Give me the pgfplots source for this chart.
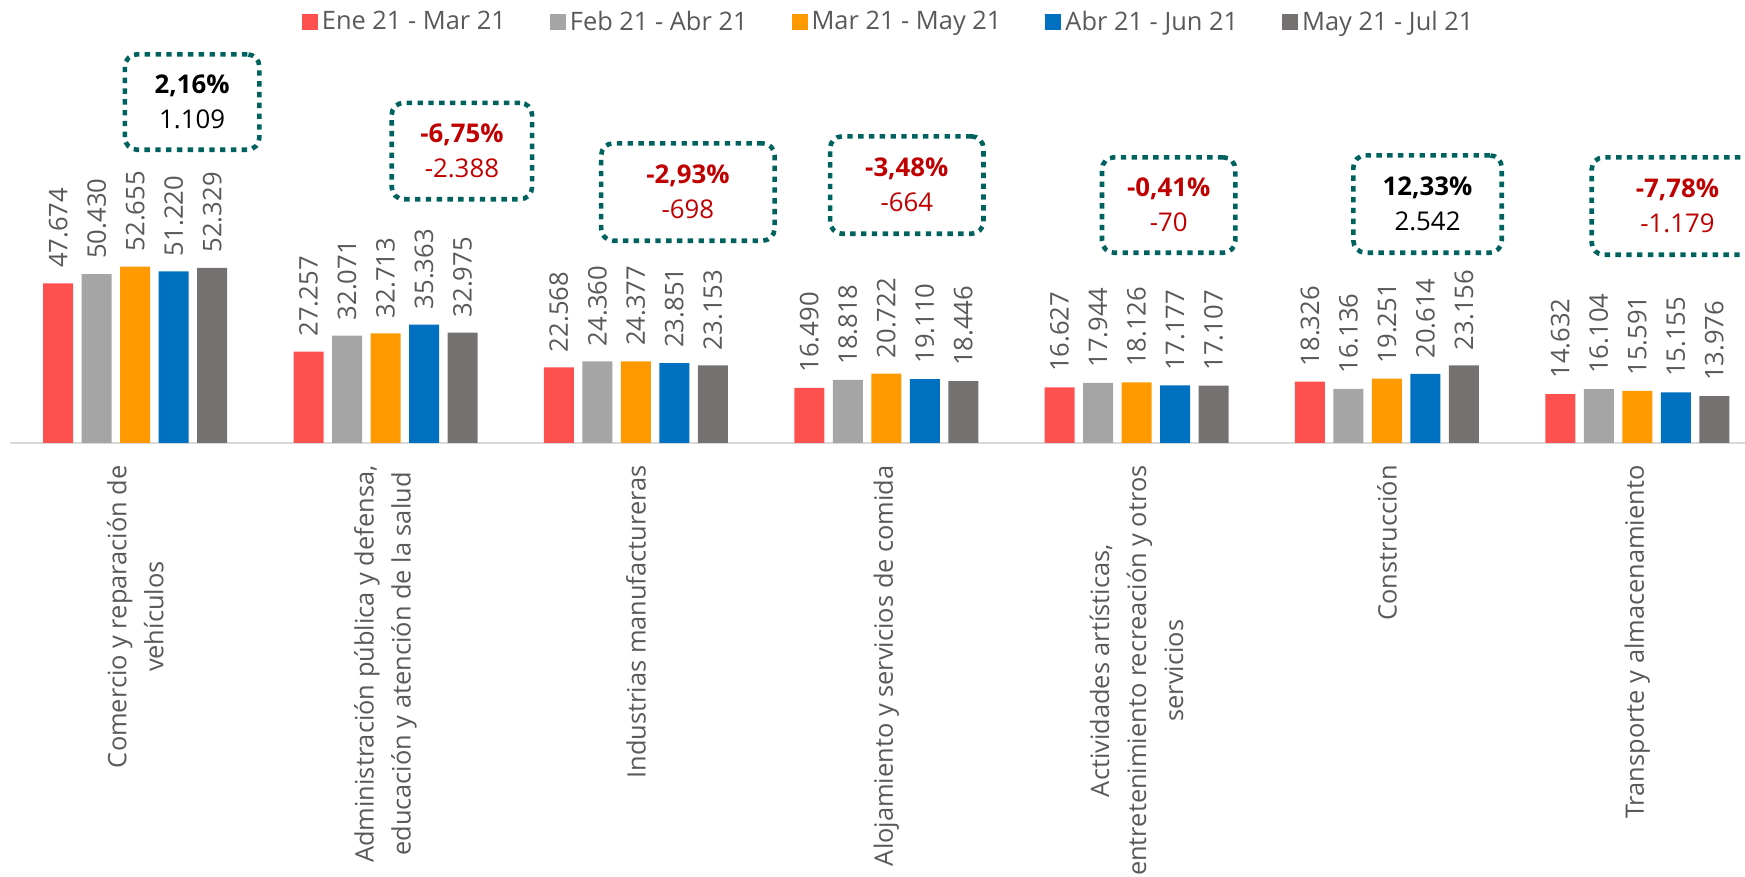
\documentclass[border=0pt]{standalone}
\usepackage{pgfplots}
\pgfplotsset{compat=1.18}
\usepackage{fontspec}
\setmainfont{Open Sans}
\definecolor{cRed}{HTML}{FF5050}
\definecolor{cGray}{HTML}{A5A5A5}
\definecolor{cOrange}{HTML}{FF9900}
\definecolor{cBlue}{HTML}{0070C0}
\definecolor{cDark}{HTML}{767171}
\definecolor{txt}{HTML}{595959}
\definecolor{boxteal}{HTML}{00625E}
\definecolor{negred}{HTML}{C00000}
\definecolor{axgray}{HTML}{D9D9D9}
\newcommand\labfont{\fontsize{12.7}{18.5}\selectfont}
\newcommand\valfont{\fontsize{12.8}{15}\selectfont}
\newcommand\legfont{\fontsize{12.7}{15}\selectfont}
\newcommand\boxfont{\fontsize{12.9}{17.5}\selectfont}
\tikzset{chgbox/.style={draw=boxteal, line width=2.3pt, dash pattern=on 2.7pt off 2.7pt,
  rounded corners=6pt, align=center, inner sep=0pt, font=\boxfont}}
\begin{document}
\begin{tikzpicture}
\useasboundingbox (0,0) rectangle (872.5pt,438.5pt);
\clip (0,0) rectangle (872.5pt,438.5pt);
\begin{axis}[
  at={(5pt,217pt)}, anchor=south west,
  scale only axis, width=867.5pt, height=221.5pt,
  xmin=-0.5, xmax=6.43, ymin=0, ymax=132300,
  ybar=4.25pt, bar width=15pt,
  axis x line*=bottom, axis y line=none,
  x axis line style={draw=axgray, line width=1pt, -},
  xtick={0,...,6}, major tick length=0pt,
  xticklabels={{Comercio y reparación de\\vehículos},
    {Administración pública y defensa,\\educación y atención de la salud},
    {Industrias manufactureras},
    {Alojamiento y servicios de comida},
    {Actividades artísticas,\\entretenimiento recreación y otros\\servicios},
    {Construcción},
    {Transporte y almacenamiento}},
  xticklabel style={rotate=90, anchor=east, align=center, inner sep=0pt, font=\labfont, text=txt},
  xticklabel shift=11pt,
  ytick=\empty,
  clip=false,
  /pgf/number format/assume math mode=true,
  nodes near coords={\pgfmathprintnumber[fixed,precision=0,1000 sep={.}]{\pgfplotspointmeta}},
  every node near coord/.append style={rotate=90, anchor=west, inner xsep=7.5pt, inner ysep=0pt, font=\valfont, text=txt},
  legend style={at={(0.507,0.95)}, anchor=center, draw=none, fill=none, legend columns=5,
    font=\legfont, text=txt, /tikz/every even column/.append style={column sep=20pt}},
  legend image code/.code={\draw[#1,draw=none] (0pt,-4pt) rectangle (8pt,4pt);},
]
\addplot[fill=cRed, draw=none] coordinates {(0,47674) (1,27257) (2,22568) (3,16490) (4,16627) (5,18326) (6,14632)};
\addplot[fill=cGray, draw=none] coordinates {(0,50430) (1,32071) (2,24360) (3,18818) (4,17944) (5,16136) (6,16104)};
\addplot[fill=cOrange, draw=none] coordinates {(0,52655) (1,32713) (2,24377) (3,20722) (4,18126) (5,19251) (6,15591)};
\addplot[fill=cBlue, draw=none] coordinates {(0,51220) (1,35363) (2,23851) (3,19110) (4,17177) (5,20614) (6,15155)};
\addplot[fill=cDark, draw=none] coordinates {(0,52329) (1,32975) (2,23153) (3,18446) (4,17107) (5,23156) (6,13976)};
\legend{Ene 21 - Mar 21, Feb 21 - Abr 21, Mar 21 - May 21, Abr 21 - Jun 21, May 21 - Jul 21}
\node[chgbox, text=black, minimum width=67.2pt, minimum height=47.7pt] at (axis cs:0.2275,101823) {\textbf{2,16\%}\\1.109};
\node[chgbox, text=negred, minimum width=70.2pt, minimum height=48.2pt] at (axis cs:1.305,87191) {\textbf{-6,75\%}\\-2.388};
\node[chgbox, text=negred, minimum width=86.7pt, minimum height=48.7pt] at (axis cs:2.2076,74949) {\textbf{-2,93\%}\\-698};
\node[chgbox, text=negred, minimum width=76.7pt, minimum height=48.7pt] at (axis cs:3.082,77039) {\textbf{-3,48\%}\\-664};
\node[chgbox, text=negred, minimum width=66.7pt, minimum height=47.7pt] at (axis cs:4.128,71067) {\textbf{-0,41\%}\\-70};
\node[chgbox, text=black, minimum width=74.2pt, minimum height=48.7pt] at (axis cs:5.162,71365) {\textbf{12,33\%}\\2.542};
\node[chgbox, text=negred, minimum width=85.7pt, minimum height=48.7pt] at (axis cs:6.16,70768) {\textbf{-7,78\%}\\-1.179};
\end{axis}
\end{tikzpicture}
\end{document}
